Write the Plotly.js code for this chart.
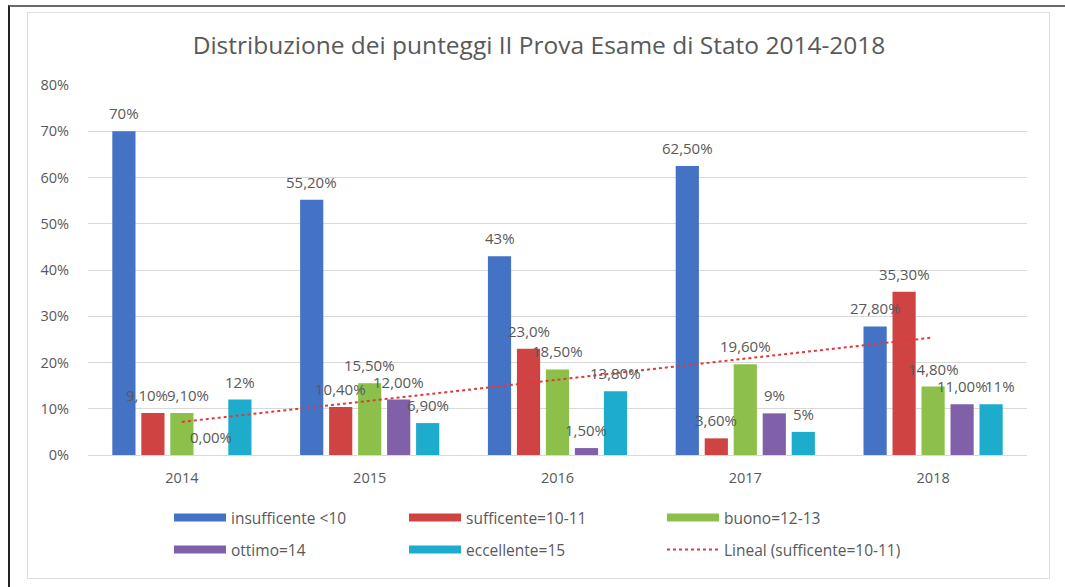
<!DOCTYPE html>
<html><head><meta charset="utf-8">
<script src="https://cdn.plot.ly/plotly-3.0.1.min.js"></script>
<style>
html,body{margin:0;padding:0;background:#fff;width:1065px;height:587px;overflow:hidden;}
#outer{position:absolute;left:8px;top:5px;width:1057px;height:582px;border-left:2px solid #222;border-top:2px solid #6a6a6a;}
#inner{position:absolute;left:27px;top:12px;width:1021px;height:565px;border:1px solid #dedede;}
#chart{position:absolute;left:0;top:0;width:1065px;height:587px;}
</style></head><body>
<div id="outer"></div><div id="inner"></div><div id="chart"></div>
<script>
// ---- data ----
const years = ['2014', '2015', '2016', '2017', '2018'];
const insufficente = [70, 55.2, 43, 62.5, 27.8];
const sufficente   = [9.1, 10.4, 23.0, 3.6, 35.3];
const buono        = [9.1, 15.5, 18.5, 19.6, 14.8];
const ottimo       = [0, 12.0, 1.5, 9, 11.0];
const eccellente   = [12, 6.9, 13.8, 5, 11];

const insufficenteLabels = ['70%', '55,20%', '43%', '62,50%', '27,80%'];
const sufficenteLabels   = ['9,10%', '10,40%', '23,0%', '3,60%', '35,30%'];
const buonoLabels        = ['9,10%', '15,50%', '18,50%', '19,60%', '14,80%'];
const ottimoLabels       = ['0,00%', '12,00%', '1,50%', '9%', '11,00%'];
const eccellenteLabels   = ['12%', '6,90%', '13,80%', '5%', '11%'];

const seriesNames = ['insufficente <10', 'sufficente=10-11', 'buono=12-13', 'ottimo=14', 'eccellente=15'];
const trendName = 'Lineal (sufficente=10-11)';
const yTickVals = [0, 10, 20, 30, 40, 50, 60, 70, 80];
const yTickText = ['0%', '10%', '20%', '30%', '40%', '50%', '60%', '70%', '80%'];

// ---- styles ----
const colors = ['#4472c4', '#d04343', '#8cc04b', '#8060a8', '#1daccb'];
const trendColor = '#e0393b';
const textColor = '#595959';
const FONT = 'Open Sans, sans-serif';

const W = 1065, H = 587;
const margin = {l: 88, r: 38, t: 85, b: 132};
const bargap = 0.228, bargroupgap = 0.2;

// small horizontal label nudges (px) as placed in the original: "series,category": dx
const labelNudge = {'1,0': -6, '2,0': 6, '4,4': 9};

const allValues = [insufficente, sufficente, buono, ottimo, eccellente];
const allLabels = [insufficenteLabels, sufficenteLabels, buonoLabels, ottimoLabels, eccellenteLabels];

// linear trend (least squares) of sufficente, as Excel does
const n = sufficente.length;
const xs = sufficente.map((_, i) => i + 1);
const mx = xs.reduce((a, b) => a + b, 0) / n;
const my = sufficente.reduce((a, b) => a + b, 0) / n;
let sxy = 0, sxx = 0;
for (let i = 0; i < n; i++) { sxy += (xs[i] - mx) * (sufficente[i] - my); sxx += (xs[i] - mx) ** 2; }
const slope = sxy / sxx, intercept = my - slope * mx;
const trend = xs.map(x => intercept + slope * x);

const traces = [];
allValues.forEach((vals, i) => {
  traces.push({
    type: 'bar', x: years, y: vals, name: seriesNames[i],
    marker: {color: colors[i]}, showlegend: false, hoverinfo: 'skip'
  });
});
traces.push({
  type: 'scatter', mode: 'lines', x: years, y: trend, name: trendName,
  line: {color: trendColor, width: 2, dash: 'dot'}, showlegend: false, hoverinfo: 'skip'
});

// legend entries (one legend per entry, Excel-like wide swatches)
const legendX = [175, 410, 668, 175, 410, 668];
const legendY = [518, 518, 518, 550, 550, 550];
const plotW = W - margin.l - margin.r, plotH = H - margin.t - margin.b;
const legendLayouts = {};
const legendNames = seriesNames.concat([trendName]);
legendNames.forEach((nm, k) => {
  const key = k === 0 ? 'legend' : 'legend' + (k + 1);
  const isTrend = k === 5;
  traces.push({
    type: 'scatter', mode: 'lines', x: [years[0]], y: [null], name: nm,
    legend: key, showlegend: true, hoverinfo: 'skip',
    line: isTrend ? {color: trendColor, width: 2, dash: 'dot'} : {color: colors[k], width: 8}
  });
  legendLayouts[key] = {
    x: (legendX[k] - 6 - margin.l) / plotW,
    y: (H - margin.b - legendY[k]) / plotH,
    xanchor: 'left', yanchor: 'middle',
    itemwidth: 52, bgcolor: 'rgba(0,0,0,0)',
    font: {family: FONT, size: 15.5, color: textColor}
  };
});

// data labels through the axes (category axis: index coordinates)
const slot = plotW / years.length * (1 - bargap) / allValues.length;
const annotations = [];
allValues.forEach((vals, i) => {
  vals.forEach((v, j) => {
    annotations.push({
      x: j, y: v, xref: 'x', yref: 'y', text: allLabels[i][j],
      showarrow: false,
      xshift: (i - (allValues.length - 1) / 2) * slot + (labelNudge[i + ',' + j] || 0),
      yshift: 18,
      font: {family: FONT, size: 15, color: textColor}
    });
  });
});

const layout = Object.assign({
  width: W, height: H, margin: margin,
  paper_bgcolor: 'rgba(0,0,0,0)', plot_bgcolor: 'rgba(0,0,0,0)',
  font: {family: FONT, color: textColor},
  title: {text: 'Distribuzione dei punteggi II Prova Esame di Stato 2014-2018',
          x: 539 / W, xanchor: 'center', y: 1 - 45 / H, yanchor: 'middle', yref: 'container',
          font: {family: FONT, size: 24.5, color: textColor}},
  barmode: 'group', bargap: bargap, bargroupgap: bargroupgap,
  xaxis: {type: 'category', range: [-0.5, years.length - 0.5], showgrid: false, showline: false,
          ticks: '', ticklabelstandoff: 12, tickfont: {family: FONT, size: 14.5, color: textColor}},
  yaxis: {range: [0, 80], tickvals: yTickVals, ticktext: yTickText, showgrid: true, gridcolor: '#d9d9d9',
          gridwidth: 1, zeroline: true, zerolinecolor: '#d9d9d9', zerolinewidth: 1, showline: false,
          ticks: '', ticklabelstandoff: 18, tickfont: {family: FONT, size: 14.5, color: textColor}},
  annotations: annotations,
  hovermode: false
}, legendLayouts);

Plotly.newPlot('chart', traces, layout, {staticPlot: true});
</script>
</body></html>
